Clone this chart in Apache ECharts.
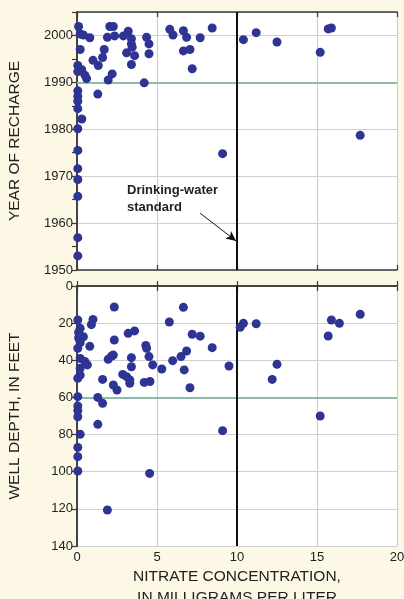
<!DOCTYPE html>
<html>
<head>
<meta charset="utf-8">
<script src="https://cdn.jsdelivr.net/npm/echarts@6/dist/echarts.min.js"></script>
<style>
  html, body { margin: 0; padding: 0; background: #fdf8e6; }
  #chart { width: 404px; height: 599px; }
</style>
</head>
<body>
<div id="chart"></div>
<script>
// Nitrate concentration (mg/L) vs. year of recharge
const rechargeNitrate = [0.1,0.2,0.4,0.8,0.2,0.05,0.3,0.5,0.6,0.05,0.05,0.05,0.05,0.05,0.3,0.05,0.05,0.05,0.05,0.05,0.05,0.05,
  1.0,1.33,1.6,1.7,1.3,1.95,2.2,2.05,2.27,1.9,2.35,2.9,3.2,3.4,3.4,3.45,3.1,3.6,3.4,4.35,4.5,4.5,4.2,
  5.8,6.0,6.65,6.85,6.65,7.06,7.2,7.7,8.45,9.1,10.4,11.2,12.5,15.2,15.7,15.9,17.7];
const rechargeYear = [2001.9,2000.3,2000.1,1999.5,1997,1993.6,1992.7,1991.5,1990.8,1992.3,1988.2,1987,1986,1984.4,1982.2,1980.1,1975.5,1971.6,1969.3,1965.7,1956.9,1953,
  1994.7,1993.6,1995.3,1997,1987.5,1990.5,1991.8,2001.9,2001.9,1999.6,1999.9,1999.9,2000.9,1999.3,1998.2,1997.5,1996.3,1995.7,1993.8,1999.6,1998.2,1996.1,1989.9,
  2001.3,2000.1,2001,1999.6,1996.7,1997,1992.9,1999.5,2001.6,1974.8,1999.1,2000.6,1998.6,1996.4,2001.4,2001.6,1978.7];

// Nitrate concentration (mg/L) vs. well depth (ft)
const depthNitrate = [0.05,0.2,0.1,0.4,0.2,0.05,0.1,0.2,0.5,0.65,0.2,0.2,0.05,0.05,0.05,0.05,0.05,0.2,0.05,0.05,0.05,
  0.8,1.0,0.9,1.3,1.6,1.3,1.6,2.33,2.33,1.95,2.17,2.27,2.27,2.5,2.86,3.1,3.3,3.3,3.2,3.6,3.4,3.4,
  4.3,4.35,4.5,4.73,5.3,4.2,4.56,5.77,5.98,6.65,6.5,6.85,6.7,7.2,7.7,8.45,7.06,9.5,9.1,4.54,1.9,
  10.2,10.4,11.2,12.5,12.2,15.2,15.7,15.9,16.4,17.7];
const wellDepth = [18.3,22.8,25,27.3,30.5,33.5,28,39,40.7,42.5,44.3,48,49.7,59.6,64.6,67.1,70.4,79.8,86.9,91.9,99.6,
  32.5,18,20.8,74.5,50.3,60,63.2,11.3,29.1,39.5,37.7,37.2,53.3,56,47.6,48.8,50.6,52.4,25.5,24.2,38.6,43.5,
  32,33.5,38,42.5,44.7,51.9,51.4,19.4,40.2,11.5,38,35,45.2,26,27,33.2,54.8,43.1,77.9,100.9,120.6,
  22.2,20.1,20.3,42.2,50.3,70,26.9,18.3,20.1,15.2];

const xTicks = [0, 5, 10, 15, 20];
const yearRange = [1950, 2005];
const depthRange = [0, 140];
const drinkingWaterStandard = 10;
const rechargeTrendYear = 1990;
const depthTrend = 60;

const dotColor = '#2d3494';
const gridColor = '#cfcfcf';
const frameColor = '#3a3a3a';
const labelFont = { color: '#222', fontSize: 13, fontFamily: 'Liberation Sans, Arial, sans-serif' };
const nameFont = { color: '#222', fontSize: 15.5, fontFamily: 'Liberation Sans, Arial, sans-serif' };

function pairs(xs, ys) { return xs.map((x, i) => [x, ys[i]]); }
const plain = v => String(v);

const chart = echarts.init(document.getElementById('chart'), null, { renderer: 'canvas' });

function xAxisDef(grid, pos, opts) {
  return Object.assign({
    type: 'value', gridIndex: grid, position: pos,
    min: xTicks[0], max: xTicks[xTicks.length - 1], interval: 5,
    axisLine: { show: true, lineStyle: { color: frameColor, width: 1.5 } },
    axisTick: { show: true, inside: true, length: 5, lineStyle: { color: frameColor, width: 1.2 } },
    axisLabel: { show: false },
    splitLine: { show: false }
  }, opts);
}

function yAxisDef(grid, pos, min, max, interval, opts) {
  return Object.assign({
    type: 'value', gridIndex: grid, position: pos, min: min, max: max, interval: interval,
    axisLine: { show: true, lineStyle: { color: frameColor, width: 1.5 } },
    axisTick: { show: true, inside: true, length: 5, lineStyle: { color: frameColor, width: 1.2 } },
    axisLabel: { show: false },
    splitLine: { show: false }
  }, opts);
}

const option = {
  backgroundColor: '#fdf8e6',
  animation: false,
  grid: [
    { left: 77, width: 320, top: 12, height: 258, backgroundColor: '#fff', show: true, borderWidth: 0,
      outerBoundsMode: 'none', containLabel: false },
    { left: 77, width: 320, top: 286, height: 260, backgroundColor: '#fff', show: true, borderWidth: 0,
      outerBoundsMode: 'none', containLabel: false }
  ],
  xAxis: [
    xAxisDef(0, 'bottom', { splitLine: { show: true, lineStyle: { color: gridColor, width: 1.2 } } }),
    xAxisDef(0, 'top', {}),
    xAxisDef(1, 'bottom', {
      splitLine: { show: true, lineStyle: { color: gridColor, width: 1.2 } },
      axisLabel: Object.assign({ show: true, margin: 5, formatter: plain }, labelFont),
      name: 'NITRATE CONCENTRATION,\nIN MILLIGRAMS PER LITER',
      nameLocation: 'middle', nameGap: 20,
      nameTextStyle: Object.assign({ lineHeight: 21, verticalAlign: 'top' }, nameFont)
    }),
    xAxisDef(1, 'top', {})
  ],
  yAxis: [
    yAxisDef(0, 'left', yearRange[0], yearRange[1], 10, {
      axisTick: { show: true, inside: false, length: 3, lineStyle: { color: frameColor } },
      axisLabel: Object.assign({ show: true, margin: 4, showMaxLabel: false, formatter: plain }, labelFont),
      splitLine: { show: true, lineStyle: { color: gridColor, width: 1.2 } },
      name: 'YEAR OF RECHARGE', nameLocation: 'middle', nameGap: 54, nameTextStyle: nameFont
    }),
    yAxisDef(0, 'right', yearRange[0], yearRange[1], 5, {}),
    yAxisDef(1, 'left', depthRange[0], depthRange[1], 20, {
      inverse: true,
      axisTick: { show: true, inside: false, length: 3, lineStyle: { color: frameColor } },
      axisLabel: Object.assign({ show: true, margin: 4, formatter: plain }, labelFont),
      splitLine: { show: true, lineStyle: { color: gridColor, width: 1.2 } },
      name: 'WELL DEPTH, IN FEET', nameLocation: 'middle', nameGap: 54, nameTextStyle: nameFont
    }),
    yAxisDef(1, 'right', depthRange[0], depthRange[1], 20, { inverse: true })
  ],
  series: [
    {
      type: 'scatter', xAxisIndex: 0, yAxisIndex: 0,
      data: pairs(rechargeNitrate, rechargeYear),
      symbolSize: 9, itemStyle: { color: dotColor, opacity: 1 },
      z: 5,
      markLine: {
        silent: true, symbol: 'none', animation: false,
        label: { show: false },
        data: [
          [{ coord: [0, rechargeTrendYear], lineStyle: { color: '#8fb9a8', width: 2, type: 'solid' } },
           { coord: [20, rechargeTrendYear] }],
          [{ coord: [drinkingWaterStandard, yearRange[0]], lineStyle: { color: '#111', width: 2, type: 'solid' } },
           { coord: [drinkingWaterStandard, yearRange[1]] }],
          [{ coord: [7.7, 1962.1], symbol: 'none', lineStyle: { color: '#111', width: 1, type: 'solid' } },
           { coord: [9.94, 1956.2], symbol: 'arrow', symbolSize: [7, 10] }]
        ]
      }
    },
    {
      type: 'scatter', xAxisIndex: 2, yAxisIndex: 2,
      data: pairs(depthNitrate, wellDepth),
      symbolSize: 9, itemStyle: { color: dotColor, opacity: 1 },
      z: 5,
      markLine: {
        silent: true, symbol: 'none', animation: false,
        label: { show: false },
        data: [
          [{ coord: [0, depthTrend], lineStyle: { color: '#8fb9a8', width: 2, type: 'solid' } },
           { coord: [20, depthTrend] }],
          [{ coord: [drinkingWaterStandard, depthRange[0]], lineStyle: { color: '#111', width: 2, type: 'solid' } },
           { coord: [drinkingWaterStandard, depthRange[1]] }]
        ]
      }
    }
  ],
  graphic: [
    {
      type: 'text', left: 127, top: 182, z: 10,
      style: {
        text: 'Drinking-water\nstandard',
        fill: '#222', font: 'bold 13px Liberation Sans, Arial, sans-serif', lineHeight: 17
      }
    }
  ]
};

chart.setOption(option);
</script>
</body>
</html>
